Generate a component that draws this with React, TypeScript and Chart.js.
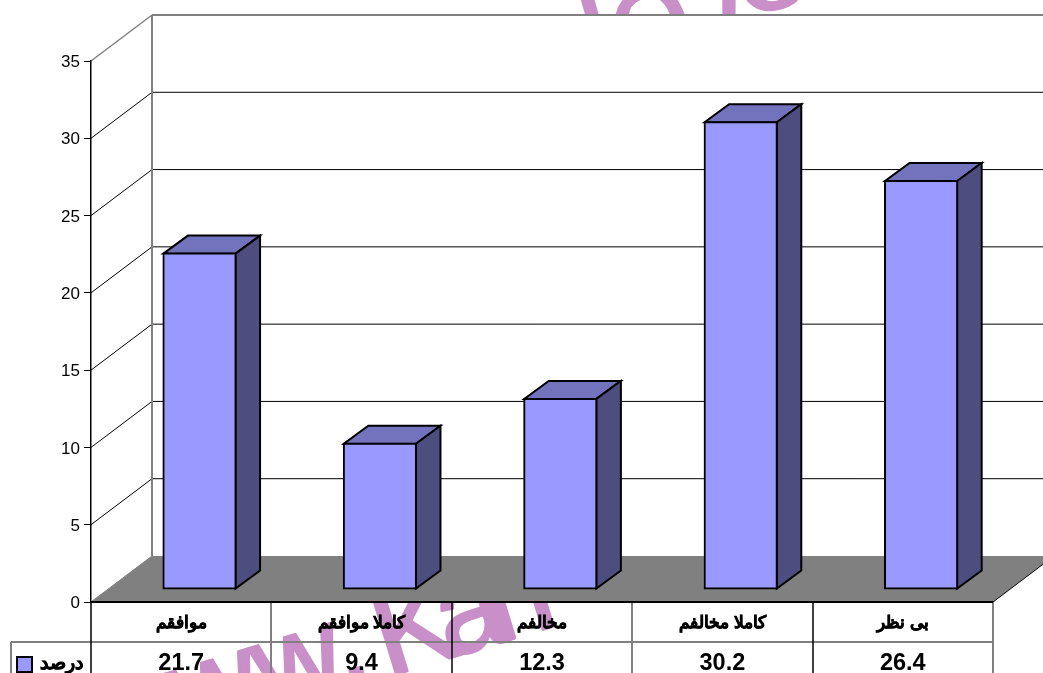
import React, { useEffect, useRef } from "react";
import { Chart, registerables } from "chart.js";

Chart.register(...registerables);

const categories = ["موافقم", "کاملا موافقم", "مخالفم", "کاملا مخالفم", "بی نظر"];
const seriesName = "درصد";
const values = [21.7, 9.4, 12.3, 30.2, 26.4];
const valueLabels = ["21.7", "9.4", "12.3", "30.2", "26.4"];
const watermarkHead = "www.";
const watermarkName = "Kan";
const watermarkTopGlyphs: [string, number, number, number][] = [
  ["l", 598, 36, -16],
  ["o", 663, 67, -16],
  ["l", 729, 30, 0],
  ["o", 781, 8, -16],
];

const AREA = { top: 61, right: 50 };
const BACK = { dx: 61, dy: -46 };
const BAR_DEPTH = { dx: 24.5, dy: -18 };
const BAR_SHIFT = { dx: 18.3, dy: -13 };
const GRAY = "#808080";
const PINK = "#c98fc8";
const FONT = '"Liberation Sans", Arial, sans-serif';

function line(c: CanvasRenderingContext2D, x1: number, y1: number, x2: number, y2: number, color: string, w: number) {
  c.strokeStyle = color;
  c.lineWidth = w;
  c.beginPath();
  c.moveTo(x1, y1);
  c.lineTo(x2, y2);
  c.stroke();
}
function poly(c: CanvasRenderingContext2D, pts: number[][], fill: string, stroke?: string, w = 2) {
  c.beginPath();
  pts.forEach((p, i) => (i ? c.lineTo(p[0], p[1]) : c.moveTo(p[0], p[1])));
  c.closePath();
  c.fillStyle = fill;
  c.fill();
  if (stroke) {
    c.strokeStyle = stroke;
    c.lineWidth = w;
    c.lineJoin = "miter";
    c.stroke();
  }
}
function wm(c: CanvasRenderingContext2D, s: string, x: number, y: number, deg: number, size: number, bold: number, spacing: number, align: CanvasTextAlign) {
  c.save();
  c.translate(x, y);
  c.rotate((deg * Math.PI) / 180);
  c.textAlign = align;
  c.font = `${size}px ${FONT}`;
  (c as any).letterSpacing = `${spacing}px`;
  c.strokeStyle = PINK;
  c.lineWidth = bold;
  c.lineJoin = "round";
  c.fillText(s, 0, 0);
  if (bold > 0) c.strokeText(s, 0, 0);
  c.restore();
}

const frame = {
  id: "frame3d",
  beforeDraw(chart: any) {
    const c = chart.ctx as CanvasRenderingContext2D;
    const { left, right, top, bottom } = chart.chartArea;
    const y = chart.scales.y;
    c.save();
    // watermark, behind the chart's white panel
    c.fillStyle = PINK;
    c.textBaseline = "alphabetic";
    wm(c, watermarkHead, 101, 760, -17, 120, 3, 0, "left");
    wm(c, watermarkName, 387, 677, -17, 120, 3, -16, "left");
    watermarkTopGlyphs.forEach((g) => wm(c, g[0], g[1], g[2], g[3], 150, 0, 0, "center"));
    c.fillStyle = "#ffffff";
    c.fillRect(left - 4, 15, chart.width, bottom - 15);
    // left wall + back wall gridlines
    y.ticks.forEach((t: any) => {
      const py = y.getPixelForValue(t.value);
      const isTop = t.value === y.max;
      if (t.value === 0) return;
      line(c, left, py, left + BACK.dx, py + BACK.dy, isTop ? GRAY : "#000000", isTop ? 1.5 : 1);
      line(c, left + BACK.dx, py + BACK.dy, right + BACK.dx, py + BACK.dy, isTop ? GRAY : "#000000", isTop ? 2 : 1);
    });
    line(c, left + BACK.dx, top + BACK.dy, left + BACK.dx, bottom + BACK.dy, GRAY, 2);
    // floor
    poly(c, [[left, bottom], [right, bottom], [right + BACK.dx, bottom + BACK.dy], [left + BACK.dx, bottom + BACK.dy]], GRAY);
    line(c, right, bottom, right + BACK.dx, bottom + BACK.dy, "#000000", 1);
    line(c, left, bottom, left + BACK.dx, bottom + BACK.dy, GRAY, 1);
    // data table
    const tableMid = 642;
    line(c, 11, tableMid, right, tableMid, GRAY, 2);
    line(c, 11, tableMid, 11, chart.height, GRAY, 2);
    const cw = (right - left) / categories.length;
    for (let i = 0; i <= categories.length; i++) {
      const x = Math.round(left + cw * i);
      const black = i % 2 === 0;
      line(c, x, bottom, x, chart.height, black ? "#000000" : GRAY, black ? 1.5 : 2);
    }
    line(c, right, bottom, right, chart.height, GRAY, 2);
    c.fillStyle = "#000000";
    c.textBaseline = "middle";
    c.textAlign = "center";
    c.font = `bold 23.5px ${FONT}`;
    valueLabels.forEach((s, i) => c.fillText(s, left + cw * (i + 0.5), 664));
    c.font = `bold 19px ${FONT}`;
    c.textAlign = "right";
    c.strokeStyle = "#000000";
    c.lineWidth = 0.6;
    c.fillText(seriesName, 83, 664);
    c.strokeText(seriesName, 83, 664);
    poly(c, [[17, 657], [32, 657], [32, 672], [17, 672]], "#9999ff", "#000000", 2);
    c.restore();
  },
  beforeDatasetsDraw(chart: any) {
    const c = chart.ctx as CanvasRenderingContext2D;
    c.save();
    c.translate(BAR_SHIFT.dx, BAR_SHIFT.dy);
    chart.getDatasetMeta(0).data.forEach((b: any) => {
      const p = b.getProps(["x", "y", "base", "width"], true);
      const l = p.x - p.width / 2;
      const r = p.x + p.width / 2;
      poly(c, [[l, p.y], [r, p.y], [r + BAR_DEPTH.dx, p.y + BAR_DEPTH.dy], [l + BAR_DEPTH.dx, p.y + BAR_DEPTH.dy]], "#7373bd", "#000000");
      poly(c, [[r, p.y], [r + BAR_DEPTH.dx, p.y + BAR_DEPTH.dy], [r + BAR_DEPTH.dx, p.base + BAR_DEPTH.dy], [r, p.base]], "#4d4d80", "#000000");
    });
  },
  afterDatasetsDraw(chart: any) {
    chart.ctx.restore();
    const c = chart.ctx as CanvasRenderingContext2D;
    line(c, chart.chartArea.left, chart.chartArea.bottom, chart.chartArea.right, chart.chartArea.bottom, "#000000", 2);
  },
};

export default function App() {
  const ref = useRef<HTMLCanvasElement>(null);
  useEffect(() => {
    const chart = new Chart(ref.current as HTMLCanvasElement, {
      type: "bar",
      data: {
        labels: categories,
        datasets: [
          {
            label: seriesName,
            data: values,
            backgroundColor: "#9999ff",
            borderColor: "#000000",
            borderWidth: 2,
            borderSkipped: false,
            inflateAmount: 1,
            barPercentage: 0.8,
            categoryPercentage: 0.5,
            clip: false,
          } as any,
        ],
      },
      options: {
        animation: false,
        responsive: false,
        layout: { padding: { top: AREA.top, right: AREA.right, left: 0, bottom: 0 } },
        plugins: { legend: { display: false }, tooltip: { enabled: false } },
        scales: {
          x: {
            grid: { display: false, drawTicks: false },
            border: { display: false },
            afterFit: (s: any) => { s.height = 71; },
            ticks: {
              color: "#000000",
              padding: 11,
              maxRotation: 0,
              autoSkip: false,
              textStrokeColor: "#000000",
              textStrokeWidth: 0.6,
              font: { family: FONT, size: 17, weight: "bold" },
            },
          },
          y: {
            min: 0,
            max: 35,
            afterFit: (s: any) => { s.width = 91; },
            grid: { drawOnChartArea: false, drawTicks: true, tickLength: 7, color: "#000000" },
            border: { display: true, color: "#000000", width: 1.5 },
            ticks: {
              stepSize: 5,
              color: "#000000",
              padding: 4,
              labelOffset: 1.5,
              font: { family: FONT, size: 17 },
            },
          },
        },
      },
      plugins: [frame],
    } as any);
    return () => chart.destroy();
  }, []);
  return (
    <div style={{ position: "fixed", left: 0, top: 0, width: 1043, height: 673, overflow: "hidden", background: "#fff" }}>
      <canvas ref={ref} width={1043} height={673} style={{ display: "block" }} />
    </div>
  );
}
